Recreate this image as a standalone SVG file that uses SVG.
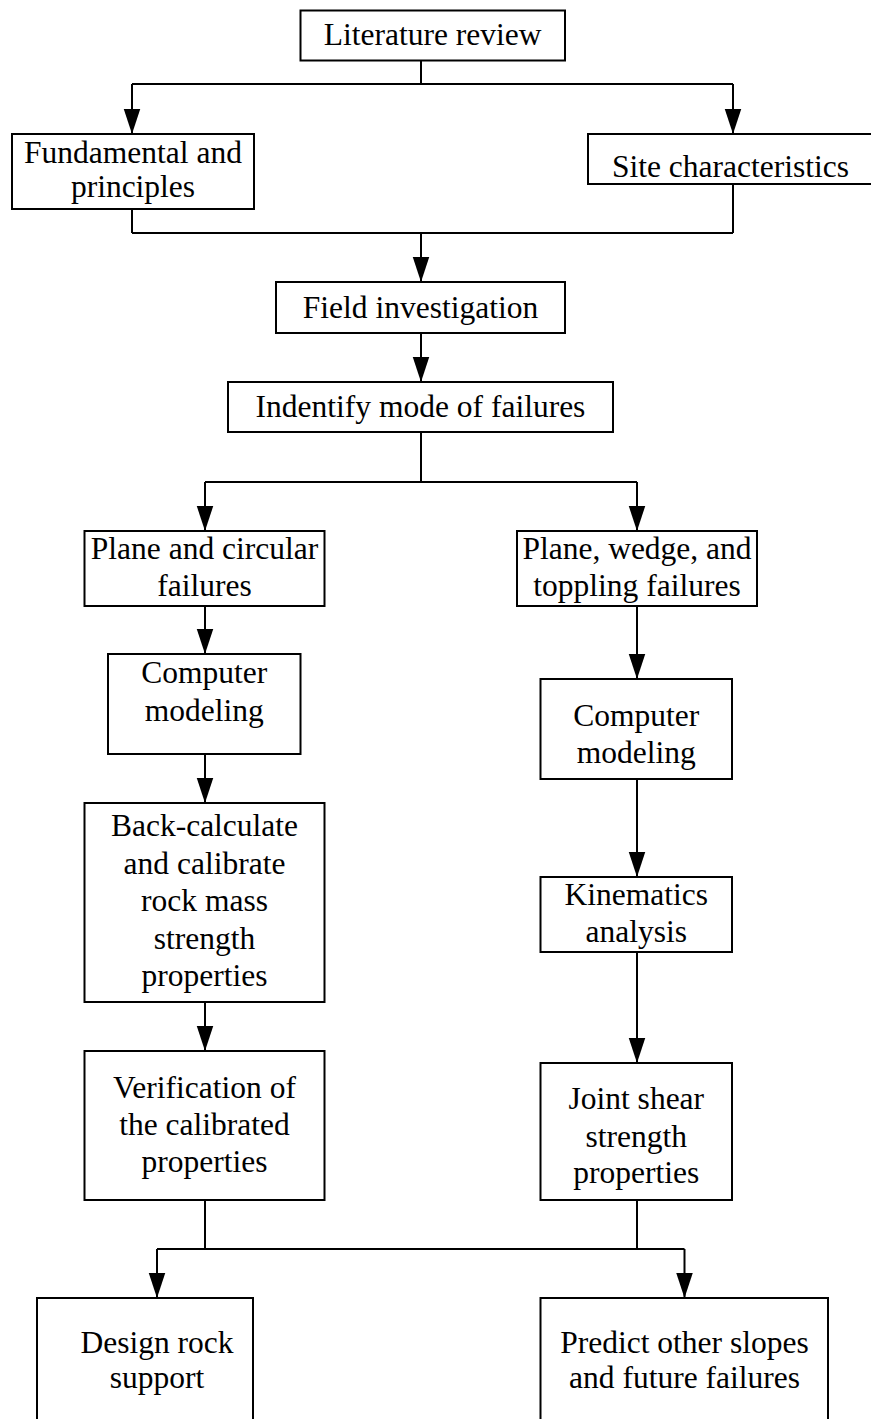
<svg xmlns="http://www.w3.org/2000/svg" width="871" height="1419" viewBox="0 0 871 1419">
<style>
.box{fill:#fff;stroke:#000;stroke-width:2}
.t{font-family:"Liberation Serif","Times New Roman",serif;font-size:31.5px;fill:#000;text-anchor:middle}
.c{fill:none;stroke:#000;stroke-width:2}
</style>
<defs>
<marker id="ah" markerUnits="userSpaceOnUse" markerWidth="26" markerHeight="18" refX="25" refY="8.25" orient="auto" viewBox="0 0 26 17">
<path d="M0,0 L25,8.25 L0,16.5 z" fill="#000"/>
</marker>
</defs>
<rect width="871" height="1419" fill="#fff"/>
<g id="connectors">
<path class="c" d="M421,61 V84 M132,84 H733"/>
<path class="c" d="M132,84 V134" marker-end="url(#ah)"/>
<path class="c" d="M733,84 V134" marker-end="url(#ah)"/>
<path class="c" d="M132,209 V233 M733,184 V233 M132,233 H733"/>
<path class="c" d="M421,233 V282" marker-end="url(#ah)"/>
<path class="c" d="M421,333 V382" marker-end="url(#ah)"/>
<path class="c" d="M421,432 V482 M205,482 H637"/>
<path class="c" d="M205,482 V531" marker-end="url(#ah)"/>
<path class="c" d="M637,482 V531" marker-end="url(#ah)"/>
<path class="c" d="M205,606 V654" marker-end="url(#ah)"/>
<path class="c" d="M637,606 V679" marker-end="url(#ah)"/>
<path class="c" d="M205,754 V803" marker-end="url(#ah)"/>
<path class="c" d="M637,779 V877" marker-end="url(#ah)"/>
<path class="c" d="M205,1002 V1051" marker-end="url(#ah)"/>
<path class="c" d="M637,952 V1063" marker-end="url(#ah)"/>
<path class="c" d="M205,1200 V1249 M637,1200 V1249 M157,1249 H684.5"/>
<path class="c" d="M157,1249 V1298" marker-end="url(#ah)"/>
<path class="c" d="M684.5,1249 V1298" marker-end="url(#ah)"/>
</g>
<g id="literature-review">
<rect class="box" x="300.5" y="10.5" width="264.5" height="50"/>
<text class="t" x="432.7" y="45">Literature review</text>
</g>
<g id="fundamental">
<rect class="box" x="12" y="134" width="242" height="75"/>
<text class="t" x="133" y="163">Fundamental and</text>
<text class="t" x="133" y="197">principles</text>
</g>
<g id="site">
<rect class="box" x="588" y="134" width="290" height="50"/>
<text class="t" x="730.5" y="177">Site characteristics</text>
</g>
<g id="field">
<rect class="box" x="276" y="282" width="289" height="51"/>
<text class="t" x="420.5" y="318">Field investigation</text>
</g>
<g id="identify">
<rect class="box" x="228" y="382" width="385" height="50"/>
<text class="t" x="420.5" y="417">Indentify mode of failures</text>
</g>
<g id="plane-circular">
<rect class="box" x="84.5" y="531" width="240" height="75"/>
<text class="t" x="204.5" y="559">Plane and circular</text>
<text class="t" x="204.5" y="596">failures</text>
</g>
<g id="plane-wedge">
<rect class="box" x="517" y="531" width="240" height="75"/>
<text class="t" x="637" y="559">Plane, wedge, and</text>
<text class="t" x="637" y="596">toppling failures</text>
</g>
<g id="computer-left">
<rect class="box" x="108" y="654" width="192.5" height="100"/>
<text class="t" x="204.3" y="683">Computer</text>
<text class="t" x="204.3" y="721">modeling</text>
</g>
<g id="computer-right">
<rect class="box" x="540.5" y="679" width="191.5" height="100"/>
<text class="t" x="636.3" y="726">Computer</text>
<text class="t" x="636.3" y="763">modeling</text>
</g>
<g id="back-calculate">
<rect class="box" x="84.5" y="803" width="240" height="199"/>
<text class="t" x="204.5" y="836">Back-calculate</text>
<text class="t" x="204.5" y="873.5">and calibrate</text>
<text class="t" x="204.5" y="911">rock mass</text>
<text class="t" x="204.5" y="948.5">strength</text>
<text class="t" x="204.5" y="986">properties</text>
</g>
<g id="kinematics">
<rect class="box" x="540.5" y="877" width="191.5" height="75"/>
<text class="t" x="636.3" y="905">Kinematics</text>
<text class="t" x="636.3" y="942">analysis</text>
</g>
<g id="verification">
<rect class="box" x="84.5" y="1051" width="240" height="149"/>
<text class="t" x="204.5" y="1098">Verification of</text>
<text class="t" x="204.5" y="1135">the calibrated</text>
<text class="t" x="204.5" y="1172">properties</text>
</g>
<g id="joint-shear">
<rect class="box" x="540.5" y="1063" width="191.5" height="137"/>
<text class="t" x="636.3" y="1109">Joint shear</text>
<text class="t" x="636.3" y="1147">strength</text>
<text class="t" x="636.3" y="1183">properties</text>
</g>
<g id="design-rock-support">
<rect class="box" x="37" y="1298" width="216" height="140"/>
<text class="t" x="157" y="1353">Design rock</text>
<text class="t" x="157" y="1388">support</text>
</g>
<g id="predict">
<rect class="box" x="540.5" y="1298" width="287.5" height="140"/>
<text class="t" x="684.5" y="1353">Predict other slopes</text>
<text class="t" x="684.5" y="1388">and future failures</text>
</g>
</svg>
